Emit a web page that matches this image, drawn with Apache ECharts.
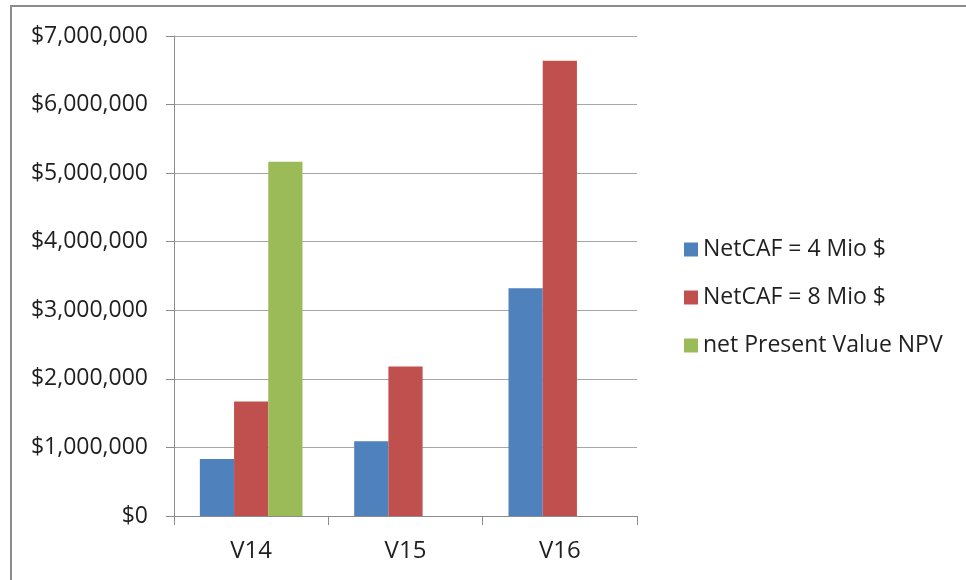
<!DOCTYPE html>
<html>
<head>
<meta charset="utf-8">
<script src="https://cdn.jsdelivr.net/npm/echarts@6/dist/echarts.min.js"></script>
<style>
  html, body { margin: 0; padding: 0; background: #fff; }
  #chart { width: 966px; height: 580px; }
</style>
</head>
<body>
<div id="chart"></div>
<script>
// Project variants and their values (USD)
const categories = ['V14', 'V15', 'V16'];
const netCaf4Mio = [830000, 1090000, 3320000];
const netCaf8Mio = [1670000, 2180000, 6640000];
const npvValues = [5165000, null, null];
const seriesNames = ['NetCAF = 4 Mio $', 'NetCAF = 8 Mio $', 'net Present Value NPV'];
const yMin = 0, yMax = 7000000, yStep = 1000000;

const FONT = '"Open Sans", "Liberation Sans", sans-serif';
const TEXT = '#1f1f1f';
const AXIS = '#8c8c8c';

const chart = echarts.init(document.getElementById('chart'));
chart.setOption({
  animation: false,
  backgroundColor: '#fff',
  color: ['#4F81BD', '#C0504D', '#9BBB59'],
  graphic: [{
    type: 'rect',
    shape: { x: 11, y: 6, width: 1000, height: 640 },
    style: { fill: 'none', stroke: '#8c8c8c', lineWidth: 2 },
    silent: true
  }],
  grid: { left: 174, right: 329, top: 36, bottom: 64 },
  legend: {
    orient: 'vertical',
    left: 679,
    top: 233,
    itemWidth: 14,
    itemHeight: 14,
    itemGap: 25,
    icon: 'rect',
    textStyle: { fontFamily: FONT, fontSize: 23, color: TEXT, lineHeight: 22, padding: [0, 0, 0, 0] },
    data: seriesNames
  },
  xAxis: {
    type: 'category',
    data: categories,
    axisLine: { lineStyle: { color: AXIS, width: 1 } },
    axisTick: { show: true, length: 9, lineStyle: { color: AXIS } },
    axisLabel: { fontFamily: FONT, fontSize: 24, color: TEXT, margin: 23 }
  },
  yAxis: {
    type: 'value',
    min: yMin,
    max: yMax,
    interval: yStep,
    axisLine: { show: true, lineStyle: { color: AXIS, width: 1 } },
    axisTick: { show: true, length: 8, lineStyle: { color: AXIS } },
    splitLine: { lineStyle: { color: '#a6a6a6', width: 1 } },
    axisLabel: {
      fontFamily: FONT, fontSize: 23, color: TEXT, margin: 26,
      formatter: v => '$' + v.toLocaleString('en-US')
    }
  },
  series: [
    { name: seriesNames[0], type: 'bar', data: netCaf4Mio, barGap: 0, barCategoryGap: '33.5%' },
    { name: seriesNames[1], type: 'bar', data: netCaf8Mio, barGap: 0, barCategoryGap: '33.5%' },
    { name: seriesNames[2], type: 'bar', data: npvValues, barGap: 0, barCategoryGap: '33.5%' }
  ]
});
</script>
</body>
</html>
